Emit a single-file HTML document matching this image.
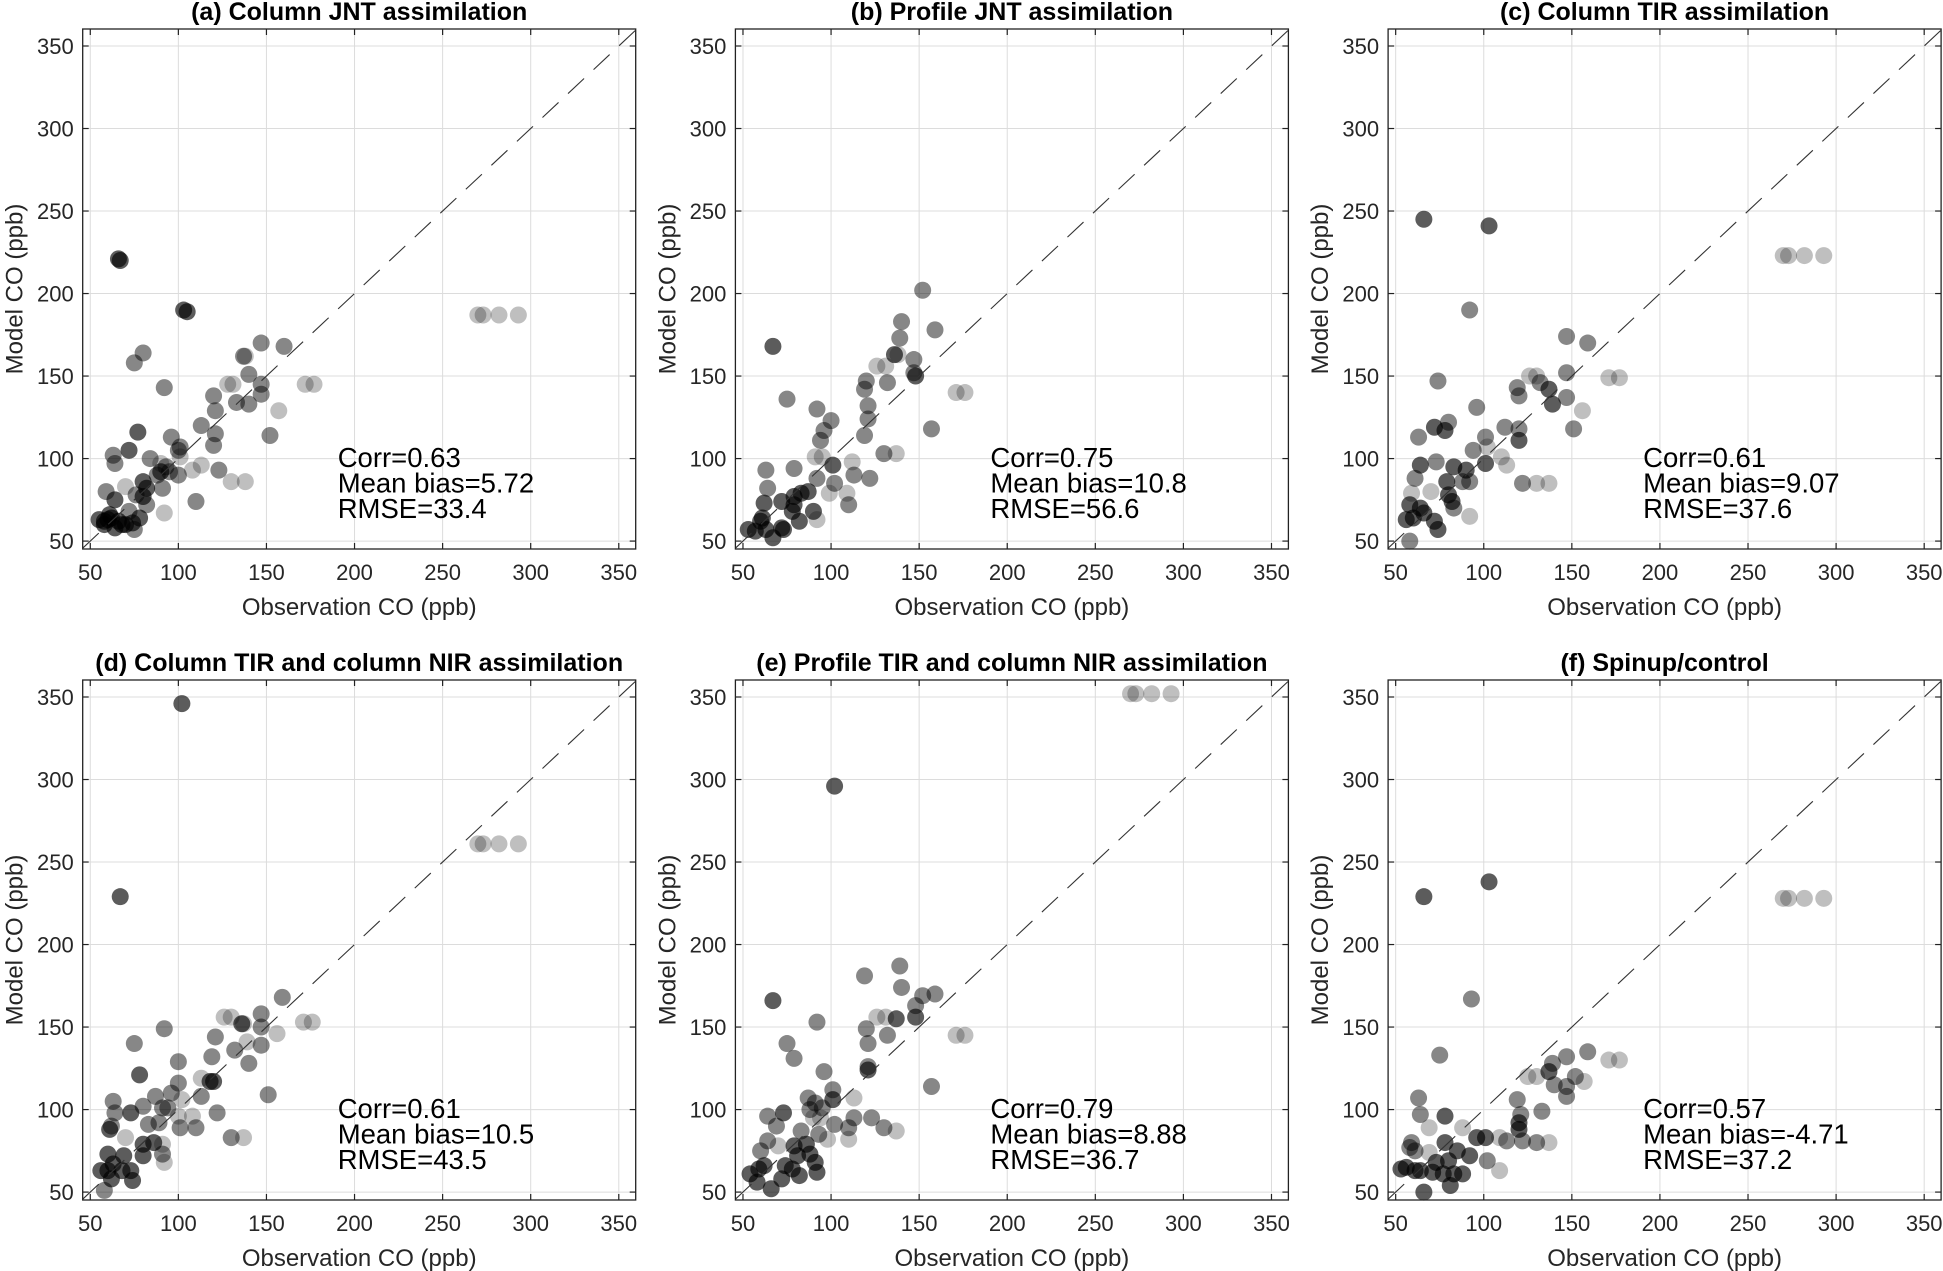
<!DOCTYPE html>
<html><head><meta charset="utf-8"><style>
html,body{margin:0;padding:0;background:#fff}
svg{display:block;font-family:"Liberation Sans",Arial,sans-serif}
</style></head><body>
<svg id="fig" width="1943" height="1271" viewBox="0 0 1943 1271" xmlns="http://www.w3.org/2000/svg"></svg>
<script>
// ---- data (tone: 2 dark, 1 medium, 0 light) ----
const titles = ["(a) Column JNT assimilation","(b) Profile JNT assimilation","(c) Column TIR assimilation","(d) Column TIR and column NIR assimilation","(e) Profile TIR and column NIR assimilation","(f) Spinup/control"];
const corrs = ["0.63","0.75","0.61","0.61","0.79","0.57"];
const biases = ["5.72","10.8","9.07","10.5","8.88","-4.71"];
const rmses = ["33.4","56.6","37.6","43.5","36.7","37.2"];
const ticks = [50,100,150,200,250,300,350];

const obsA=[67,66,103,105,80,75,92,147,160,137,138,140,147,147,128,131,172,177,120,133,140,121,157,113,121,120,152,77,72,96,101,100,63,64,84,101,90,93,90,88,95,100,108,113,123,80,82,91,130,138,70,76,80,82,59,64,110,92,78,72,66,60,58,62,64,58,55,61,70,74,75,68,270,273,282,293];
const modA=[220,221,190,189,164,158,143,170,168,162,162,151,145,139,145,145,145,145,138,134,133,129,129,120,115,108,114,116,105,113,107,105,102,97,100,101,97,95,92,90,92,90,93,96,93,86,82,82,86,86,83,78,77,72,80,75,74,67,64,68,62,63,62,64,58,60,63,66,60,61,57,60,187,187,187,187];
const toneA=[2,2,2,2,1,1,1,1,1,1,0,1,1,1,0,0,0,0,1,1,1,1,0,1,1,1,1,2,2,1,1,1,1,1,1,0,0,1,2,1,1,1,0,0,1,2,2,1,0,0,0,1,2,1,1,2,1,0,2,1,2,2,2,2,2,2,2,2,2,2,1,2,0,0,0,0];

const obsB=[152,140,159,67,139,136,138,126,131,147,147,148,120,119,132,171,176,75,121,92,121,100,96,94,157,119,91,95,130,137,101,112,63,79,92,113,122,102,64,99,109,110,92,60,62,72,79,83,87,78,90,82,72,63,57,67,53,61,73,79];
const modB=[202,183,178,168,173,163,163,156,156,160,152,150,147,142,146,140,140,136,132,130,124,123,117,111,118,114,101,101,103,103,96,98,93,94,88,90,88,85,82,79,79,72,63,62,73,74,77,79,80,68,68,62,58,57,56,52,57,64,57,72];
const toneB=[1,1,1,2,1,2,0,0,0,1,1,2,1,1,1,0,0,1,1,1,1,1,1,1,1,1,0,0,1,0,2,0,1,1,1,1,1,1,1,0,0,1,0,2,2,2,2,2,2,2,2,2,2,2,2,2,2,2,2,2];

const obsC=[66,103,92,147,159,74,126,130,147,132,137,119,120,171,177,147,139,156,96,151,72,78,80,63,112,120,120,101,94,102,110,113,101,73,64,122,130,137,61,83,90,92,79,88,59,70,80,82,83,92,58,60,56,64,72,74,58,66,270,273,282,293];
const modC=[245,241,190,174,170,147,150,150,152,146,142,143,138,149,149,137,133,129,131,118,119,117,122,113,119,118,111,113,105,107,101,96,97,98,96,85,85,85,88,95,93,86,86,86,79,80,78,74,70,65,50,64,63,70,62,57,72,67,223,223,223,223];
const toneC=[2,2,1,1,1,1,0,0,1,1,2,1,1,0,0,1,2,0,1,1,2,2,1,1,1,1,2,1,1,0,0,0,2,1,2,1,0,0,1,2,2,1,2,1,0,0,2,2,1,0,1,2,2,2,2,2,2,2,0,0,0,0];

const obsD=[67,102,159,126,130,147,136,137,147,171,176,156,92,75,121,139,147,132,119,140,100,78,118,120,113,100,151,87,96,102,113,63,64,80,73,91,94,122,100,108,83,89,101,110,62,61,70,130,137,80,86,91,80,91,92,60,63,56,60,68,73,62,74,69,58,270,273,282,293];
const modD=[229,346,168,156,156,158,152,152,150,153,153,146,149,140,144,141,139,136,132,128,129,121,117,117,119,116,109,108,110,106,108,105,98,102,98,101,101,98,96,96,91,92,89,89,90,88,83,83,83,79,80,79,72,73,68,63,67,63,73,63,63,58,57,72,51,261,261,261,261];
const toneD=[2,2,1,0,0,1,2,0,1,0,0,0,1,1,1,0,1,1,1,1,1,2,2,2,0,1,1,1,1,0,1,1,1,1,2,1,1,1,0,0,1,1,1,1,1,2,0,1,0,2,2,0,2,1,0,2,2,2,2,2,2,2,2,2,1,0,0,0,0];

const obsE=[67,102,139,119,140,152,159,148,126,131,137,148,92,120,132,171,176,75,121,79,121,121,96,157,101,101,87,91,95,88,113,73,64,90,94,113,123,69,102,110,110,130,137,98,83,93,64,70,60,79,81,86,88,91,92,59,54,62,66,72,78,82,58,74,270,273,282,293];
const modE=[166,296,187,181,174,169,170,163,156,156,155,156,153,149,145,145,145,140,140,131,126,124,123,114,112,106,107,104,101,100,107,98,96,95,95,95,95,90,91,89,82,89,87,82,87,85,81,78,75,78,72,79,73,68,62,64,61,66,52,58,64,60,56,66,352,352,352,352];
const toneE=[2,2,1,1,1,1,1,1,0,0,2,2,1,1,1,0,0,1,1,1,1,2,1,1,1,2,1,1,1,1,0,2,1,0,0,1,1,1,1,1,0,1,0,0,1,1,1,0,1,2,2,2,2,2,2,2,2,2,2,2,2,2,2,2,0,0,0,0];

const obsF=[66,103,93,75,147,159,171,177,139,137,125,130,152,157,140,147,147,63,119,133,64,78,121,120,120,69,88,101,96,109,113,122,130,137,78,59,61,69,85,92,102,109,73,80,83,88,77,81,66,71,56,53,61,64,58,270,273,282,293];
const modF=[229,238,167,133,132,135,130,130,128,123,120,120,120,117,115,114,108,107,106,99,97,96,97,92,88,89,89,83,83,83,81,81,80,80,80,80,75,74,75,72,69,63,68,69,61,61,61,54,50,62,65,64,63,63,77,228,228,228,228];
const toneF=[2,2,1,1,1,1,0,0,1,2,0,0,1,0,1,1,1,1,1,1,1,2,1,2,2,0,0,2,2,0,1,1,1,0,2,1,1,0,2,2,1,0,2,2,2,2,2,2,2,2,2,2,2,2,1,0,0,0,0];

const obsAll=[obsA,obsB,obsC,obsD,obsE,obsF];
const modAll=[modA,modB,modC,modD,modE,modF];
const toneAll=[toneA,toneB,toneC,toneD,toneE,toneF];

// ---- layout ----
const NS="http://www.w3.org/2000/svg";
const svg=document.getElementById('fig');
const XMIN=45.7,XMAX=359.6,YMIN=45.2,YMAX=360.3,PW=553,PH=520;
const toneFill=["rgba(0,0,0,0.25)","rgba(0,0,0,0.47)","rgba(0,0,0,0.64)"];
function mk(tag,attrs,parent){const e=document.createElementNS(NS,tag);for(const k in attrs)e.setAttribute(k,attrs[k]);(parent||svg).appendChild(e);return e;}

for(let p=0;p<6;p++){
  const col=p%3,row=Math.floor(p/3);
  const L=82.7+col*652.7,T=29+row*651;
  const sx=v=>L+(v-XMIN)/(XMAX-XMIN)*PW;
  const sy=v=>T+PH-(v-YMIN)/(YMAX-YMIN)*PH;
  const g=mk('g',{});
  
  
  ticks.forEach(t=>{
    const gx=mk('line',{x1:sx(t),x2:sx(t),y1:T,y2:T+PH,stroke:'#dcdcdc','stroke-width':1},g);
    
    
    const gy=mk('line',{x1:L,x2:L+PW,y1:sy(t),y2:sy(t),stroke:'#dcdcdc','stroke-width':1},g);
    
    
  });
  const ob=obsAll[p],md=modAll[p],tn=toneAll[p];
  for(let i=0;i<ob.length;i++){
    const c=mk('circle',{cx:sx(ob[i]),cy:sy(md[i]),r:8.5,fill:toneFill[tn[i]]},g);
    
    
  }
  const d=mk('line',{x1:sx(XMIN),y1:sy(XMIN),x2:sx(YMAX),y2:sy(YMAX),stroke:'#333','stroke-width':1.1,'stroke-dasharray':'22 13'},g);
  
  
  const b=mk('rect',{x:L,y:T,width:PW,height:PH,fill:'none',stroke:'#222','stroke-width':1.3},g);
  
  
  ticks.forEach(t=>{
    mk('line',{x1:sx(t),x2:sx(t),y1:T+PH,y2:T+PH-6,stroke:'#222','stroke-width':1.2},g);
    mk('line',{x1:sx(t),x2:sx(t),y1:T,y2:T+6,stroke:'#222','stroke-width':1.2},g);
    mk('line',{x1:L,x2:L+6,y1:sy(t),y2:sy(t),stroke:'#222','stroke-width':1.2},g);
    mk('line',{x1:L+PW,x2:L+PW-6,y1:sy(t),y2:sy(t),stroke:'#222','stroke-width':1.2},g);
    const xl=mk('text',{x:sx(t),y:T+PH+31,'font-size':22,fill:'#262626','text-anchor':'middle'},g);
    xl.textContent=t;
    
    
    const yl=mk('text',{x:L-9,y:sy(t)+8,'font-size':22,fill:'#262626','text-anchor':'end'},g);
    yl.textContent=t;
    
    
  });
  const xt=mk('text',{x:L+PW/2,y:T+PH+66,'font-size':24,fill:'#262626','text-anchor':'middle'},g);
  xt.textContent='Observation CO (ppb)';
  
  
  const yt=mk('text',{x:0,y:0,'font-size':24,fill:'#262626','text-anchor':'middle',transform:`translate(${L-60},${T+PH/2}) rotate(-90)`},g);
  yt.textContent='Model CO (ppb)';
  
  
  const tt=mk('text',{x:L+PW/2,y:T-9,'font-size':25,'font-weight':'bold',fill:'#000','text-anchor':'middle'},g);
  tt.textContent=titles[p];
  
  
  const lines=['Corr='+corrs[p],'Mean bias='+biases[p],'RMSE='+rmses[p]];
  lines.forEach((s,k)=>{
    const st=mk('text',{x:L+255,y:T+438+k*25.5,'font-size':27.5,fill:'#000'},g);
    st.textContent=s;
    
    
  });
}
</script>
</body></html>
